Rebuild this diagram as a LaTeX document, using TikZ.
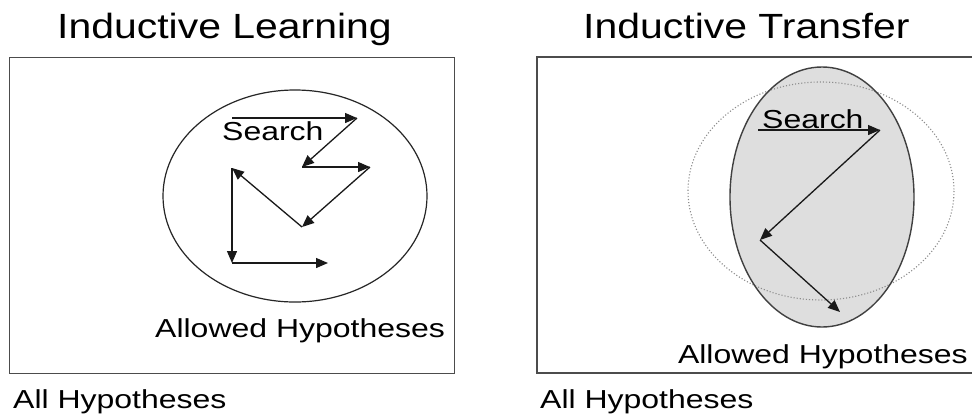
\documentclass[tikz,border=0pt]{standalone}
\usepackage{fontspec}
\setmainfont{Liberation Sans}
\usetikzlibrary{arrows.meta}
\newcommand{\wide}[2]{\scalebox{#1}[1]{#2}}
\tikzset{
  boxline/.style={draw=black!70, line width=1.3pt},
  title/.style={inner sep=0pt, font=\fontsize{35}{40}\selectfont},
  label/.style={inner sep=0pt, font=\fontsize{26}{30}\selectfont},
  srch/.style={draw=black!90, line width=1.3pt, -{Triangle[length=12pt,width=10pt]}},
}
\begin{document}
\begin{tikzpicture}[x=1pt,y=-1pt]
\useasboundingbox (0,0) rectangle (972,416);
\fill[white] (0,0) rectangle (972,416);

% titles
\node[title, anchor=base west] (tl) at (57,38) {\wide{1.17}{Inductive Learning}};
\node[title, anchor=base west] (tr) at (583,38) {\wide{1.17}{Inductive Transfer}};

% boxes
\node[boxline, rectangle, minimum width=445pt, minimum height=316pt, anchor=north west, inner sep=0pt] (boxl) at (9,57) {};
\draw[boxline] (972,57) -- (537,57) -- (537,373) -- (972,373);

% left ellipse
\draw[line width=1.2pt, draw=black!85] (295,196) ellipse [x radius=132, y radius=106];

% right ellipses
\fill[black!13] (822,197) ellipse [x radius=92, y radius=130];
\draw[black!45, dotted, line width=1.1pt] (821,191) ellipse [x radius=133, y radius=109];
\draw[line width=1.4pt, draw=black!75] (822,197) ellipse [x radius=92, y radius=130];

% labels
\node[label, anchor=base west] (sl) at (222,140) {\wide{1.23}{Search}};
\node[label, anchor=base west] (sr) at (762,128) {\wide{1.23}{Search}};
\node[label, anchor=base west] (al) at (155,337) {\wide{1.23}{Allowed Hypotheses}};
\node[label, anchor=base east] (ar) at (968,363) {\wide{1.23}{Allowed Hypotheses}};
\node[label, anchor=base west] (hl) at (13,408) {\wide{1.23}{All Hypotheses}};
\node[label, anchor=base west] (hr) at (540,408) {\wide{1.23}{All Hypotheses}};

% left search path
\coordinate (p1) at (232,118);
\coordinate (p2) at (357,118);
\coordinate (p3) at (302,167);
\coordinate (p4) at (370,167);
\coordinate (p5) at (302,227);
\coordinate (p6) at (232,168);
\coordinate (p7) at (232,263);
\coordinate (p8) at (328,263);
\draw[srch] (p1) -- (p2);
\draw[srch] (p2) -- (p3);
\draw[srch] (p3) -- (p4);
\draw[srch] (p4) -- (p5);
\draw[srch] (p5) -- (p6);
\draw[srch] (p6) -- (p7);
\draw[srch] (p7) -- (p8);

% right search path
\coordinate (q1) at (758,130);
\coordinate (q2) at (880,130);
\coordinate (q3) at (760,240);
\coordinate (q4) at (840,312);
\draw[srch] (q1) -- (q2);
\draw[srch] (q2) -- (q3);
\draw[srch] (q3) -- (q4);
\end{tikzpicture}
\end{document}
